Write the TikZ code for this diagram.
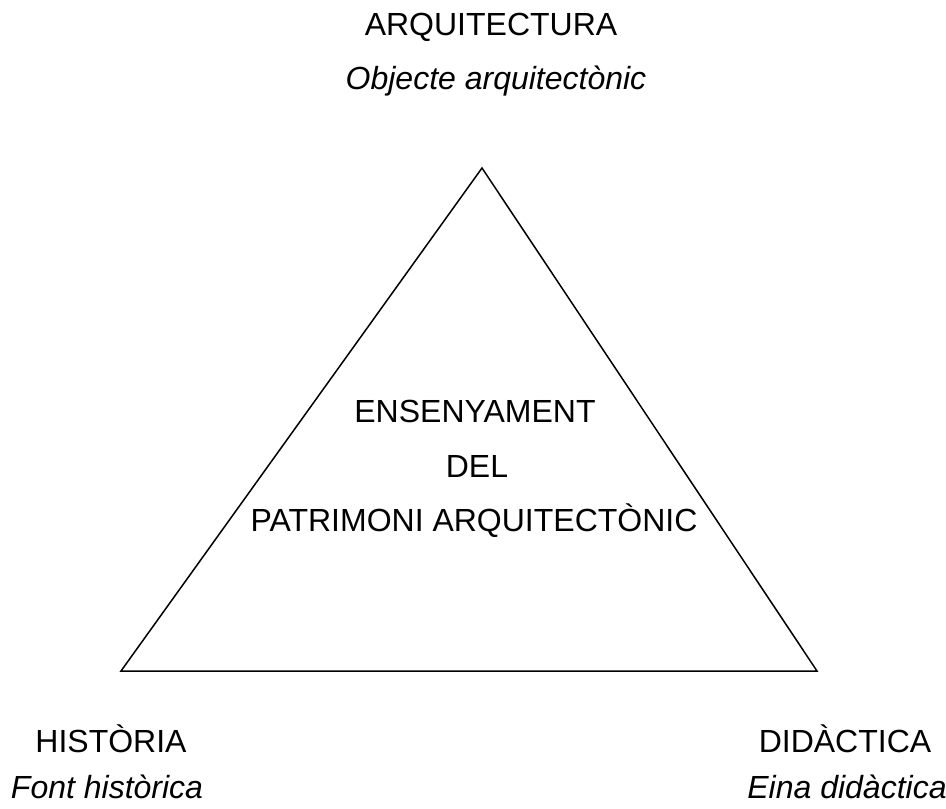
\documentclass[tikz,border=0pt]{standalone}
\usepackage{fontspec}
\setmainfont{Liberation Sans}
\begin{document}
\begin{tikzpicture}[x=1pt,y=-1pt,
  lbl/.style={anchor=base,inner sep=0pt,font=\fontsize{32}{38}\selectfont},
  ilbl/.style={lbl,font=\fontsize{32}{38}\selectfont\itshape},
  edge/.style={line width=1.5pt,line join=miter}]
\useasboundingbox (0,0) rectangle (946,809);
\coordinate (top) at (482,168);
\coordinate (bl) at (121,671);
\coordinate (br) at (817,671);
\draw[edge] (top) -- (bl) -- (br) -- cycle;
\node[lbl] (arq) at (491,35) {ARQUITECTURA};
\node[ilbl] (obj) at (496,89) {Objecte arquitectònic};
\node[lbl] (ens) at (475,422) {ENSENYAMENT};
\node[lbl] (del) at (477,477) {DEL};
\node[lbl] (pat) at (474,531) {PATRIMONI ARQUITECTÒNIC};
\node[lbl] (his) at (111,752) {HISTÒRIA};
\node[ilbl] (fon) at (107,798) {Font històrica};
\node[lbl] (did) at (845,752) {DIDÀCTICA};
\node[ilbl] (ein) at (847,798) {Eina didàctica};
\end{tikzpicture}
\end{document}
